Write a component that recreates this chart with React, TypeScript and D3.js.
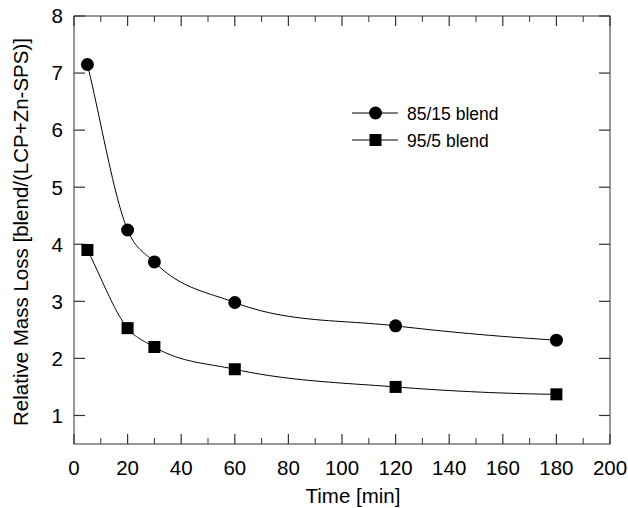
import React from "react";
import * as d3 from "d3";

const times = [5, 20, 30, 60, 120, 180];
const blend8515 = [7.15, 4.25, 3.69, 2.98, 2.57, 2.32];
const blend955 = [3.9, 2.53, 2.2, 1.81, 1.5, 1.37];
const xTicks = [0, 20, 40, 60, 80, 100, 120, 140, 160, 180, 200];
const xMinor = [10, 30, 50, 70, 90, 110, 130, 150, 170, 190];
const yTicks = [1, 2, 3, 4, 5, 6, 7, 8];
const seriesNames = ["85/15 blend", "95/5 blend"];

const W = 628, H = 508;
const L = 74, R = 610, T = 16, B = 444;
const FONT = "Liberation Sans, Arial, sans-serif";

// smooth cubic Hermite y(x) with three-point tangents, sampled densely
function smooth(xs: number[], ys: number[], steps = 24): [number, number][] {
  const n = xs.length;
  const h = d3.range(n - 1).map(i => xs[i + 1] - xs[i]);
  const d = d3.range(n - 1).map(i => (ys[i + 1] - ys[i]) / h[i]);
  const m = new Array(n).fill(0);
  for (let i = 1; i < n - 1; i++) m[i] = (h[i] * d[i - 1] + h[i - 1] * d[i]) / (h[i - 1] + h[i]);
  m[0] = d[0];
  m[n - 1] = 2 * d[n - 2] - m[n - 2];
  const pts: [number, number][] = [];
  for (let i = 0; i < n - 1; i++) {
    for (let s = 0; s <= steps; s++) {
      if (i > 0 && s === 0) continue;
      const t = s / steps;
      const t2 = t * t, t3 = t2 * t;
      const h00 = 2 * t3 - 3 * t2 + 1, h10 = t3 - 2 * t2 + t, h01 = -2 * t3 + 3 * t2, h11 = t3 - t2;
      const yv = h00 * ys[i] + h10 * h[i] * m[i] + h01 * ys[i + 1] + h11 * h[i] * m[i + 1];
      pts.push([xs[i] + t * h[i], yv]);
    }
  }
  return pts;
}

export default function App() {
  const x = d3.scaleLinear().domain([0, 200]).range([L, R]);
  const y = d3.scaleLinear().domain([0.5, 8]).range([B, T]);
  const line = d3.line<[number, number]>().x(d => x(d[0])).y(d => y(d[1]));
  const col = "#000";
  const axisCol = "#333";
  return (
    <svg width={W} height={H} style={{ position: "absolute", left: 0, top: 0, background: "#fff" }}>
      <rect x={L} y={T} width={R - L} height={B - T} fill="none" stroke={axisCol} strokeWidth={1} />
      {xTicks.map(t => (
        <g key={"xt" + t}>
          <line x1={x(t)} x2={x(t)} y1={B} y2={B - 10} stroke={axisCol} strokeWidth={1.2} />
          <line x1={x(t)} x2={x(t)} y1={T} y2={T + 10} stroke={axisCol} strokeWidth={1.2} />
          <text x={x(t)} y={474.5} textAnchor="middle" fontFamily={FONT} fontSize={20.5} fill="#000">{t}</text>
        </g>
      ))}
      {xMinor.map(t => (
        <g key={"xm" + t}>
          <line x1={x(t)} x2={x(t)} y1={B} y2={B - 6} stroke={axisCol} strokeWidth={1} />
          <line x1={x(t)} x2={x(t)} y1={T} y2={T + 6} stroke={axisCol} strokeWidth={1} />
        </g>
      ))}
      {yTicks.map(t => (
        <g key={"yt" + t}>
          <line x1={L} x2={L + 11} y1={y(t)} y2={y(t)} stroke={axisCol} strokeWidth={1.2} />
          <line x1={R} x2={R - 11} y1={y(t)} y2={y(t)} stroke={axisCol} strokeWidth={1.2} />
          <text x={63} y={y(t) + 7.3} textAnchor="end" fontFamily={FONT} fontSize={20.5} fill="#000">{t}</text>
        </g>
      ))}
      <text x={353} y={503} textAnchor="middle" fontFamily={FONT} fontSize={20.5} fill="#000">Time [min]</text>
      <text transform={`translate(28,232) rotate(-90)`} textAnchor="middle" fontFamily={FONT} fontSize={20.5} fill="#000">
        Relative Mass Loss [blend/(LCP+Zn-SPS)]
      </text>
      <path d={line(smooth(times, blend8515)) || ""} fill="none" stroke={col} strokeWidth={1} />
      <path d={line(smooth(times, blend955)) || ""} fill="none" stroke={col} strokeWidth={1} />
      {blend8515.map((v, i) => (
        <circle key={"c" + i} cx={x(times[i])} cy={y(v)} r={6.5} fill={col} />
      ))}
      {blend955.map((v, i) => (
        <rect key={"s" + i} x={x(times[i]) - 6} y={y(v) - 6} width={12} height={12} fill={col} />
      ))}
      <g>
        <line x1={352} x2={398} y1={113} y2={113} stroke={col} strokeWidth={1} />
        <circle cx={375.5} cy={113} r={6.5} fill={col} />
        <text x={407} y={119.5} fontFamily={FONT} fontSize={17.5} fill="#000">{seriesNames[0]}</text>
        <line x1={352} x2={398} y1={140} y2={140} stroke={col} strokeWidth={1} />
        <rect x={369.5} y={134} width={12} height={12} fill={col} />
        <text x={407} y={146.5} fontFamily={FONT} fontSize={17.5} fill="#000">{seriesNames[1]}</text>
      </g>
    </svg>
  );
}
